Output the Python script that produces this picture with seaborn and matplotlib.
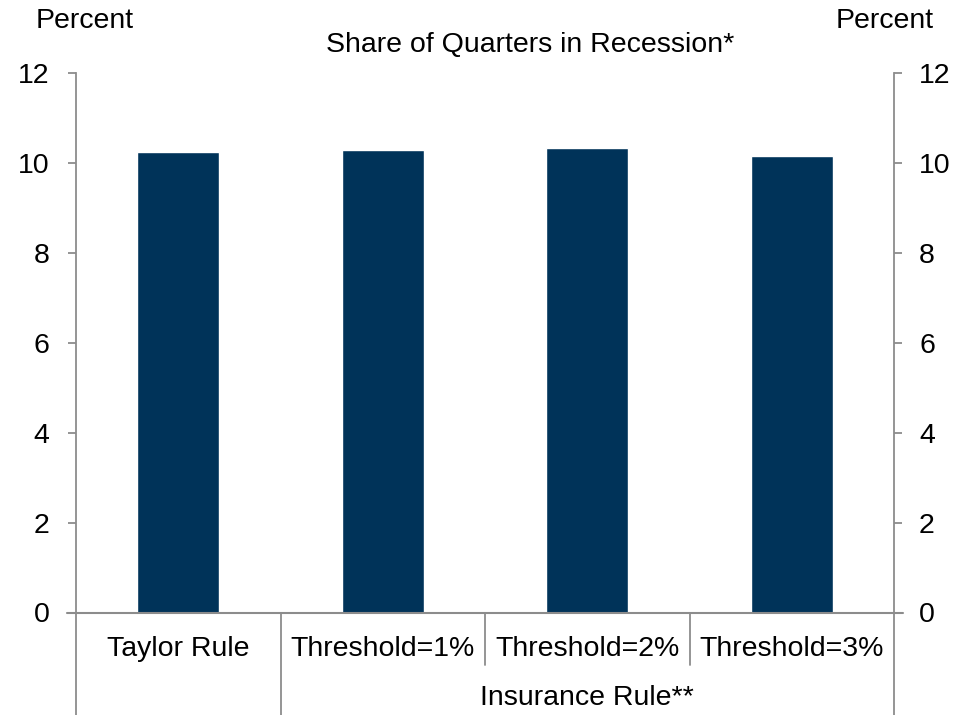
import matplotlib
matplotlib.use("Agg")
import matplotlib.pyplot as plt
import matplotlib.transforms as mtransforms
import seaborn as sns
import pandas as pd

# Chart data
categories = ["Taylor Rule", "Threshold=1%", "Threshold=2%", "Threshold=3%"]
share_in_recession = [10.24, 10.30, 10.34, 10.16]
group_label = "Insurance Rule**"
y_ticks = [0, 2, 4, 6, 8, 10, 12]

sns.set_theme(style="white")
plt.rcParams["font.family"] = ["Liberation Sans", "DejaVu Sans"]

BAR = "#003359"
AXIS = "#8c8c8c"
FS = 20.5

df = pd.DataFrame({"rule": categories, "share": share_in_recession})

fig = plt.figure(figsize=(9.71, 7.15), dpi=100)
ax_left, ax_right, ax_top, ax_bot = 76, 894, 73.3, 612.5
ax_h = ax_bot - ax_top
ax = fig.add_axes([ax_left / 971, 1 - ax_bot / 715,
                   (ax_right - ax_left) / 971, ax_h / 715])

sns.barplot(data=df, x="rule", y="share", color=BAR, width=0.4,
            saturation=1, ax=ax)

ax.set_ylim(0, 12)
ax.set_xlim(-0.5, len(categories) - 0.5)
ax.set_yticks(y_ticks)
ax.set_xlabel("")
ax.set_ylabel("")
ax.set_xticks([])

for side in ["top", "bottom", "right"]:
    ax.spines[side].set_visible(False)
ax.spines["left"].set_color(AXIS)
ax.spines["left"].set_linewidth(1.3)

ax.tick_params(axis="y", direction="out", length=6, width=1.3, color=AXIS,
               labelsize=FS, labelcolor="black", pad=13, left=True)

# Mirror axis on the right
ax2 = ax.twinx()
ax2.set_ylim(ax.get_ylim())
ax2.set_yticks(y_ticks)
for side in ["top", "bottom", "left"]:
    ax2.spines[side].set_visible(False)
ax2.spines["right"].set_color(AXIS)
ax2.spines["right"].set_linewidth(1.3)
ax2.tick_params(axis="y", direction="out", length=6, width=1.3, color=AXIS,
                labelsize=FS, labelcolor="black", pad=12, right=True)

# Baseline extending slightly beyond both axes
ext = 9 / (ax_right - ax_left)
ax.plot([-ext, 1 + ext], [0, 0], transform=ax.transAxes, color=AXIS,
        lw=1.5, clip_on=False)

# Category table beneath the baseline
blend = mtransforms.blended_transform_factory(ax.transData, ax.transAxes)
bottom_full = -(715 - ax_bot) / ax_h
bottom_short = -(665 - ax_bot) / ax_h
for xpos, ybot in [(-0.5, bottom_full), (0.5, bottom_full),
                   (1.5, bottom_short), (2.5, bottom_short),
                   (3.5, bottom_full)]:
    ax.plot([xpos, xpos], [0, ybot], transform=blend, color=AXIS, lw=1.3,
            clip_on=False)

for i, name in enumerate(categories):
    ax.text(i, -(649 - ax_bot) / ax_h, name, transform=blend, ha="center",
            va="center", fontsize=FS, color="black")
ax.text(2.0, -(698 - ax_bot) / ax_h, group_label, transform=blend,
        ha="center", va="center", fontsize=FS, color="black")

# Titles and unit labels
fig.text(530 / 971, 1 - 45 / 715, "Share of Quarters in Recession*",
         ha="center", va="center", fontsize=FS, color="black")
fig.text(85 / 971, 1 - 21 / 715, "Percent", ha="center", va="center",
         fontsize=FS, color="black")
fig.text(885 / 971, 1 - 21 / 715, "Percent", ha="center", va="center",
         fontsize=FS, color="black")

fig.savefig("out.png", dpi=100)
